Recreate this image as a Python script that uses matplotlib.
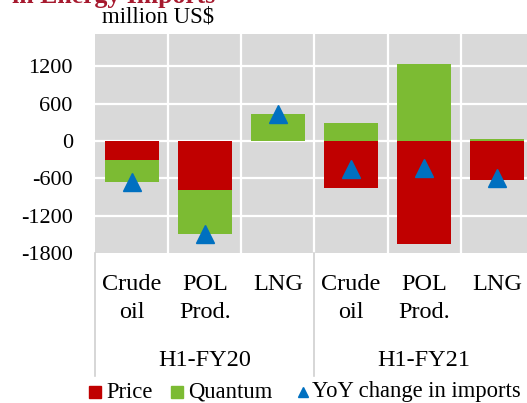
import matplotlib
matplotlib.use("Agg")
import matplotlib.pyplot as plt
from matplotlib.transforms import blended_transform_factory
from matplotlib.lines import Line2D
import numpy as np

plt.rcParams['font.family'] = ['Liberation Serif', 'DejaVu Serif']

line1 = ["Crude", "POL", "LNG", "Crude", "POL", "LNG"]
line2 = ["oil", "Prod.", "", "oil", "Prod.", ""]
groups = ["H1-FY20", "H1-FY21"]
price = [-300, -790, 0, -757, -1663, -620]
quantum = [-360, -700, 435, 290, 1245, 30]
yoy = [-660, -1490, 435, -455, -432, -590]
yticks = [-1800, -1200, -600, 0, 600, 1200]
legend_labels = ["Price", "Quantum", "YoY change in imports"]

RED = "#C00000"
GREEN = "#7CBB33"
BLUE = "#0070C0"
BG = "#D9D9D9"
FS = 17.5

W, H = 527, 403
fig = plt.figure(figsize=(W / 100, H / 100), dpi=100)
ax = fig.add_axes([95 / W, (H - 253) / H, 439 / W, 219 / H])
ax.set_facecolor(BG)

x = np.arange(len(line1))
price_a = np.array(price, float)
quant_a = np.array(quantum, float)
pb = np.zeros(len(x))
nb = np.zeros(len(x))
for vals, col in [(price_a, RED), (quant_a, GREEN)]:
    bottoms = np.where(vals >= 0, pb, nb)
    ax.bar(x, vals, bottom=bottoms, width=0.74, color=col, zorder=3)
    pb = pb + np.where(vals >= 0, vals, 0)
    nb = nb + np.where(vals < 0, vals, 0)

ax.plot(x, yoy, linestyle='none', marker='^', markersize=12.5, color=BLUE, zorder=4)

ax.set_xlim(-0.5, len(x) - 0.5)
ax.set_ylim(-1800, 1720)
ax.set_yticks(yticks)
ax.set_yticklabels([str(v) for v in yticks], fontsize=16)
ax.tick_params(axis='y', length=0, pad=16)
ax.set_xticks([])
for s in ax.spines.values():
    s.set_visible(False)
for v in yticks[1:]:
    ax.axhline(v, color='white', lw=1.6, zorder=1)
for b in np.arange(0.5, len(x) - 0.5, 1.0):
    ax.axvline(b, color='white', lw=1.6, zorder=1)

tr = blended_transform_factory(ax.transData, fig.transFigure)
for i in range(len(x)):
    ax.text(x[i], 1 - 285 / H, line1[i], transform=tr, ha='center', va='center', fontsize=FS)
    if line2[i]:
        ax.text(x[i], 1 - 313 / H, line2[i], transform=tr, ha='center', va='center', fontsize=FS)
for g, name in enumerate(groups):
    ax.text(1 + 3 * g, 1 - 360 / H, name, transform=tr, ha='center', va='center', fontsize=FS)
for xb in [-0.5, 2.5]:
    ax.add_line(Line2D([xb, xb], [1 - 253 / H, 1 - 376 / H], transform=tr, color='#D0D0D0', lw=1.2, clip_on=False))

fig.text(102 / W, 1 - 17 / H, "million US$", ha='left', va='center', fontsize=16.5)
fig.text(12 / W, 1 - 3 / H, "in Energy Imports", ha='left', va='baseline', fontsize=18.5,
         fontweight='bold', color='#A6192E')

# manual legend
ly = 1 - 392 / H
leg_marks = [('s', 9, RED, 95), ('s', 9, GREEN, 177), ('^', 7.5, BLUE, 303)]
leg_text_x = [106, 188, 312]
for (m, ms, c, px), lab, tx in zip(leg_marks, legend_labels, leg_text_x):
    fig.add_artist(Line2D([px / W], [ly], marker=m, markersize=ms, color=c, linestyle='none',
                          transform=fig.transFigure))
    fig.text(tx / W, ly, lab, ha='left', va='center', fontsize=16.3)

fig.savefig("out.png", dpi=100)
